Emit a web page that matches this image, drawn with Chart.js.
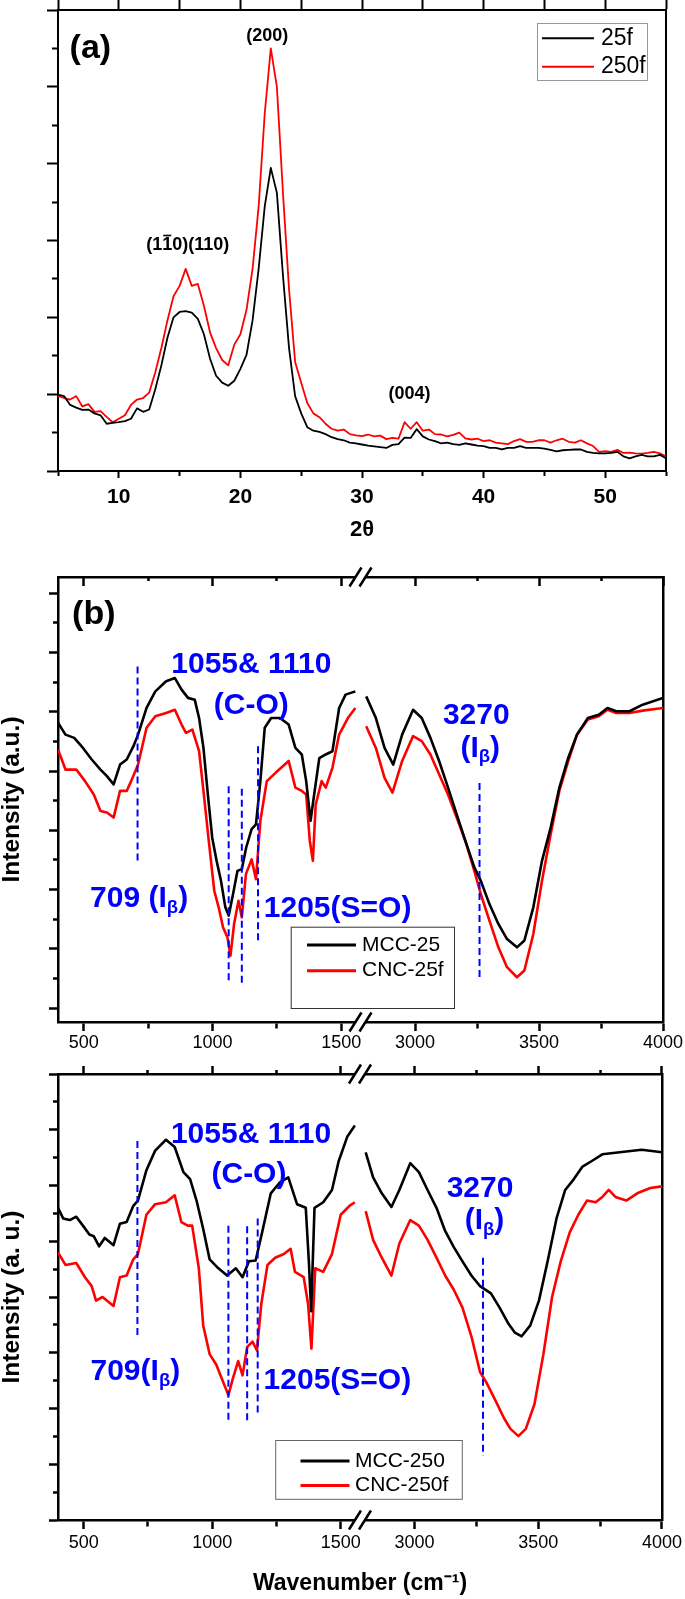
<!DOCTYPE html>
<html>
<head>
<meta charset="utf-8">
<title>XRD and FTIR of MCC / CNC</title>
<script src="https://cdn.jsdelivr.net/npm/chart.js"></script>
<style>
    body { margin: 0; background: #ffffff; }
    canvas { position: absolute; left: 0; }
</style>
</head>
<body>
<canvas id="xrd" width="685" height="548" style="top:0px"></canvas>
<canvas id="ftir25" width="685" height="508" style="top:548px"></canvas>
<canvas id="ftir250" width="685" height="543" style="top:1056px"></canvas>

<script>
// ---------- (a) XRD patterns, intensity in arbitrary units ----------
const twoTheta = [
    5, 5.5, 6, 6.5, 7, 7.5, 8, 8.5, 9, 9.5,
    10, 10.5, 11, 11.5, 12, 12.5, 13, 13.5, 14, 14.5,
    15, 15.5, 16, 16.5, 17, 17.5, 18, 18.5, 19, 19.5,
    20, 20.5, 21, 21.5, 22, 22.5, 23, 23.5, 24, 24.5,
    25, 25.5, 26, 26.5, 27, 27.5, 28, 28.5, 29, 29.5,
    30, 30.5, 31, 31.5, 32, 32.5, 33, 33.5, 34, 34.5,
    35, 35.5, 36, 36.5, 37, 37.5, 38, 38.5, 39, 39.5,
    40, 40.5, 41, 41.5, 42, 42.5, 43, 43.5, 44, 44.5,
    45, 45.5, 46, 46.5, 47, 47.5, 48, 48.5, 49, 49.5,
    50, 50.5, 51, 51.5, 52, 52.5, 53, 53.5, 54, 54.5,
    55];
const xrd25f = [
    1.99, 1.95, 1.72, 1.65, 1.59, 1.60, 1.50, 1.45, 1.23, 1.25,
    1.27, 1.30, 1.36, 1.63, 1.54, 1.60, 2.13, 2.75, 3.47, 4.00,
    4.14, 4.16, 4.12, 3.96, 3.56, 2.93, 2.48, 2.30, 2.22, 2.35,
    2.66, 3.02, 3.92, 5.26, 6.88, 7.89, 7.24, 5.09, 3.20, 1.95,
    1.50, 1.14, 1.05, 1.02, 0.96, 0.88, 0.83, 0.80, 0.74, 0.72,
    0.69, 0.66, 0.64, 0.62, 0.60, 0.68, 0.70, 0.87, 0.86, 1.09,
    0.90, 0.82, 0.78, 0.72, 0.74, 0.70, 0.68, 0.72, 0.69, 0.66,
    0.65, 0.60, 0.60, 0.56, 0.60, 0.60, 0.65, 0.60, 0.60, 0.60,
    0.58, 0.55, 0.51, 0.54, 0.55, 0.56, 0.56, 0.50, 0.47, 0.46,
    0.46, 0.47, 0.50, 0.38, 0.33, 0.38, 0.42, 0.38, 0.38, 0.42,
    0.33];
const xrd250f = [
    1.95, 1.90, 1.86, 1.95, 1.68, 1.74, 1.54, 1.56, 1.41, 1.27,
    1.36, 1.45, 1.72, 1.86, 1.90, 2.04, 2.57, 3.20, 3.92, 4.55,
    4.82, 5.26, 4.82, 4.87, 4.30, 3.61, 3.20, 2.89, 2.75, 3.29,
    3.56, 4.19, 5.26, 6.88, 9.30, 11.00, 10.00, 7.24, 4.73, 2.84,
    2.30, 1.77, 1.50, 1.40, 1.23, 1.10, 1.05, 1.08, 0.96, 0.93,
    0.91, 0.95, 0.90, 0.92, 0.83, 0.86, 0.84, 1.27, 1.10, 1.27,
    1.05, 1.08, 0.96, 0.95, 0.90, 0.94, 1.00, 0.85, 0.82, 0.84,
    0.78, 0.80, 0.74, 0.72, 0.70, 0.78, 0.83, 0.76, 0.76, 0.80,
    0.80, 0.74, 0.80, 0.84, 0.76, 0.74, 0.80, 0.72, 0.65, 0.50,
    0.52, 0.50, 0.55, 0.47, 0.48, 0.46, 0.45, 0.47, 0.50, 0.46,
    0.38];

// wavenumber ticks on each side of the axis break
const wnTicksLow = [500, 750, 1000, 1250, 1500];
const wnTicksHigh = [3000, 3250, 3500, 3750, 4000];

// ---------- (b) FTIR, 25 series (wavenumber cm-1 / intensity a.u.) ----------
const mcc25LowWn = [400, 429, 463, 497, 531, 565, 590, 616, 641, 667, 693, 711, 744, 778, 820, 854, 880, 905, 931, 948,
    965, 982, 999, 1016, 1033, 1050, 1063, 1080, 1097, 1114, 1131, 1152, 1169, 1186, 1203, 1228, 1262, 1296, 1322, 1347,
    1364, 1381, 1395, 1415, 1440, 1466, 1492, 1517, 1555];
const mcc25Low = [9.63, 9.23, 9.12, 8.78, 8.39, 8.05, 7.83, 7.55, 8.22, 8.39, 8.84, 9.23, 10.13, 10.69, 11.03, 11.14, 10.75, 10.47, 10.41, 9.79,
    8.78, 7.21, 5.75, 4.97, 4.30, 3.40, 3.12, 3.85, 4.63, 4.69, 5.42, 6.04, 6.20, 7.66, 9.46, 9.79, 9.79, 9.57, 8.78, 8.56,
    7.66, 6.32, 7.21, 8.44, 8.56, 8.67, 10.13, 10.58, 10.69];
const cnc25fLowWn = [400, 429, 471, 505, 539, 565, 590, 616, 641, 667, 684, 711, 744, 778, 820, 854, 880, 897, 922, 948,
    965, 987, 1007, 1024, 1041, 1058, 1070, 1084, 1101, 1114, 1130, 1152, 1169, 1186, 1211, 1245, 1296, 1322, 1347, 1364,
    1378, 1390, 1401, 1424, 1440, 1466, 1492, 1526, 1555];
const cnc25fLow = [8.73, 8.05, 8.05, 7.66, 7.21, 6.65, 6.60, 6.43, 7.33, 7.33, 7.66, 8.22, 9.46, 9.85, 9.96, 10.07, 9.57, 9.29, 9.40, 8.67,
    7.33, 5.53, 3.96, 3.40, 2.73, 2.39, 1.77, 2.84, 3.62, 3.06, 4.52, 5.02, 4.35, 6.32, 7.66, 7.94, 8.34, 7.44, 7.33, 7.21,
    5.65, 4.97, 6.87, 7.66, 7.44, 8.11, 9.23, 9.79, 10.13];
const mcc25HighWn = [2803, 2842, 2877, 2912, 2948, 2992, 3027, 3062, 3097, 3133, 3168, 3203, 3239, 3265, 3300, 3336,
    3371, 3411, 3441, 3477, 3512, 3547, 3582, 3618, 3653, 3697, 3741, 3776, 3812, 3865, 3918, 4000];
const mcc25High = [10.52, 9.79, 8.78, 8.22, 9.23, 10.07, 9.79, 9.12, 8.34, 7.44, 6.54, 5.64, 4.75, 4.30, 3.51, 2.84,
    2.33, 2.05, 2.28, 3.40, 4.97, 6.09, 7.44, 8.45, 9.23, 9.79, 9.90, 10.13, 10.02, 10.02, 10.24, 10.47];
const cnc25fHighWn = [2803, 2842, 2877, 2909, 2948, 2992, 3027, 3062, 3097, 3133, 3168, 3203, 3239, 3265, 3300, 3336,
    3371, 3411, 3441, 3477, 3512, 3547, 3582, 3618, 3653, 3697, 3741, 3776, 3812, 3865, 3918, 4000];
const cnc25fHigh = [9.51, 8.78, 7.77, 7.27, 8.34, 9.18, 9.01, 8.56, 7.89, 7.21, 6.43, 5.64, 4.63, 3.85, 2.95, 2.05,
    1.38, 1.04, 1.27, 2.50, 4.30, 5.87, 7.33, 8.34, 9.23, 9.74, 9.85, 10.07, 9.96, 9.96, 10.04, 10.13];
// dashed band markers: wavenumber, upper and lower end
const marks25Wn = [709, 1063, 1114, 1177, 3260];
const marks25Top = [11.53, 7.49, 7.40, 8.84, 7.60];
const marks25Bot = [4.91, 0.88, 0.80, 2.19, 0.99];

// ---------- (c) FTIR, 250 series ----------
const mcc250LowWn = [400, 420, 446, 471, 497, 522, 539, 560, 582, 616, 641, 667, 693, 711, 744, 778, 820, 854, 888, 914,
    939, 965, 990, 1024, 1058, 1092, 1118, 1143, 1169, 1194, 1228, 1262, 1296, 1330, 1364, 1376, 1385, 1398, 1432, 1466,
    1492, 1526, 1555];
const mcc250Low = [11.20, 10.82, 10.76, 10.88, 10.56, 10.24, 10.18, 9.82, 10.12, 9.86, 10.63, 10.69, 11.27, 11.46, 12.55, 13.25, 13.64, 13.38, 12.48, 12.23,
    11.46, 10.44, 9.35, 9.03, 8.77, 9.03, 8.71, 9.28, 9.31, 10.31, 11.72, 12.10, 12.29, 11.33, 11.20, 9.28, 7.49, 11.20, 11.40, 11.84,
    12.87, 13.76, 14.15];
const cnc250fLowWn = [400, 429, 471, 505, 531, 548, 573, 616, 641, 667, 693, 711, 744, 778, 820, 854, 880, 905, 922, 948,
    965, 990, 1016, 1041, 1063, 1080, 1101, 1118, 1136, 1157, 1174, 1191, 1215, 1245, 1279, 1305, 1322, 1356, 1373, 1386,
    1401, 1432, 1466, 1500, 1534, 1555];
const cnc250fLow = [9.60, 9.15, 9.22, 8.71, 8.39, 7.87, 8.00, 7.68, 8.71, 8.77, 9.35, 9.54, 10.95, 11.33, 11.40, 11.65, 10.69, 10.56, 10.56, 9.03,
    6.98, 5.95, 5.57, 4.99, 4.48, 5.06, 5.70, 5.19, 6.21, 6.40, 6.08, 7.75, 9.15, 9.41, 9.54, 9.73, 8.90, 8.71, 7.75, 6.15,
    9.03, 8.90, 9.54, 10.95, 11.27, 11.40];
const mcc250HighWn = [2803, 2833, 2868, 2907, 2939, 2983, 3018, 3053, 3089, 3124, 3159, 3194, 3230, 3265, 3309, 3344,
    3380, 3406, 3433, 3468, 3503, 3538, 3574, 3609, 3644, 3679, 3715, 3759, 3829, 3918, 4000];
const mcc250High = [13.19, 12.29, 11.72, 11.23, 11.84, 12.80, 12.48, 11.84, 11.20, 10.37, 9.79, 9.28, 8.77, 8.39, 8.13, 7.62,
    7.04, 6.72, 6.59, 6.98, 7.87, 9.28, 10.82, 11.84, 12.23, 12.68, 12.87, 13.12, 13.19, 13.28, 13.19];
const cnc250fHighWn = [2803, 2833, 2868, 2907, 2939, 2983, 3018, 3053, 3089, 3124, 3159, 3194, 3230, 3265, 3291, 3327,
    3362, 3388, 3420, 3450, 3485, 3521, 3556, 3591, 3627, 3662, 3697, 3732, 3759, 3785, 3812, 3856, 3900, 3953, 4000];
const cnc250fHigh = [11.08, 10.05, 9.41, 8.77, 9.92, 10.76, 10.56, 10.05, 9.41, 8.77, 8.26, 7.62, 6.59, 5.31, 4.93, 4.29,
    3.65, 3.27, 3.01, 3.27, 4.16, 5.95, 8.00, 9.28, 10.31, 10.95, 11.46, 11.40, 11.59, 11.84, 11.59, 11.46, 11.72, 11.91, 11.97];
const marks250Wn = [709, 1063, 1136, 1177, 3277];
const marks250Top = [13.60, 10.56, 10.54, 10.82, 9.41];
const marks250Bot = [6.53, 3.46, 3.46, 3.71, 2.30];

// text labels placed in data coordinates ('_' = subscript next char, '~' = overbar next char)
const BLUE = '#0000ff';
const RED = '#ff0000';
const notesA = [
    { axis: 'x', x: 7.66, y: 11.0, text: '(a)', size: 34, color: '#000' },
    { axis: 'x', x: 22.2, y: 11.32, text: '(200)', size: 18, color: '#000' },
    { axis: 'x', x: 15.67, y: 5.87, text: '(1~10)(110)', size: 18, color: '#000' },
    { axis: 'x', x: 33.9, y: 2.01, text: '(004)', size: 18, color: '#000' }
];
const notesB = [
    { axis: 'xl', x: 539, y: 13.28, text: '(b)', size: 34, color: '#000' },
    { axis: 'xl', x: 1151, y: 11.6, text: '1055& 1110', size: 30, color: BLUE },
    { axis: 'xl', x: 1151, y: 10.22, text: '(C-O)', size: 30, color: BLUE },
    { axis: 'xr', x: 3247, y: 9.88, text: '3270', size: 30, color: BLUE },
    { axis: 'xr', x: 3263, y: 8.77, text: '(I_β)', size: 30, color: BLUE },
    { axis: 'xl', x: 715, y: 3.69, text: '709 (I_β)', size: 30, color: BLUE },
    { axis: 'xl', x: 1486, y: 3.35, text: '1205(S=O)', size: 30, color: BLUE }
];
const notesC = [
    { axis: 'xl', x: 1151, y: 13.83, text: '1055& 1110', size: 30, color: BLUE },
    { axis: 'xl', x: 1143, y: 12.38, text: '(C-O)', size: 30, color: BLUE },
    { axis: 'xr', x: 3265, y: 11.87, text: '3270', size: 30, color: BLUE },
    { axis: 'xr', x: 3283, y: 10.72, text: '(I_β)', size: 30, color: BLUE },
    { axis: 'xl', x: 701, y: 5.31, text: '709(I_β)', size: 30, color: BLUE },
    { axis: 'xl', x: 1487, y: 4.99, text: '1205(S=O)', size: 30, color: BLUE }
];

const FONT = "'Liberation Sans', Arial, Helvetica, sans-serif";
Chart.defaults.font.family = FONT;
Chart.defaults.color = '#000';
Chart.defaults.animation = false;

function pts(xs, ys) {
    return xs.map((x, i) => ({ x: x, y: ys[i] }));
}

// vertical dashed markers, separated by gaps
function markPts(xs, tops, bots, keep) {
    const out = [];
    xs.forEach((x, i) => {
        if (!keep(x)) return;
        out.push({ x: x, y: tops[i] }, { x: x, y: bots[i] }, { x: x, y: null });
    });
    return out;
}

function drawRich(ctx, str, cx, cy, size, color) {
    const parts = [];
    for (let i = 0; i < str.length; i++) {
        const c = str[i];
        if ((c === '_' || c === '~') && i + 1 < str.length) {
            parts.push({ t: str[i + 1], k: c });
            i++;
        } else if (parts.length && !parts[parts.length - 1].k) {
            parts[parts.length - 1].t += c;
        } else {
            parts.push({ t: c, k: '' });
        }
    }
    const fontFor = p => 'bold ' + (p.k === '_' ? size * 0.62 : size) + 'px ' + FONT;
    let total = 0;
    parts.forEach(p => {
        ctx.font = fontFor(p);
        p.w = ctx.measureText(p.t).width;
        total += p.w;
    });
    let x = cx - total / 2;
    ctx.fillStyle = color;
    ctx.textAlign = 'left';
    ctx.textBaseline = 'middle';
    parts.forEach(p => {
        ctx.font = fontFor(p);
        ctx.fillText(p.t, x, p.k === '_' ? cy + size * 0.3 : cy);
        if (p.k === '~') {
            ctx.fillRect(x + p.w * 0.1, cy - size * 0.6, p.w * 0.8, size * 0.09);
        }
        x += p.w;
    });
}

function drawLegend(ctx, chart, L) {
    ctx.fillStyle = '#fff';
    ctx.fillRect(L.x, L.y, L.w, L.h);
    ctx.strokeStyle = L.stroke;
    ctx.lineWidth = 1;
    ctx.strokeRect(L.x + 0.5, L.y + 0.5, L.w, L.h);
    L.rows.forEach(row => {
        const ds = chart.data.datasets[row.ds];
        ctx.strokeStyle = ds.borderColor;
        ctx.lineWidth = L.lineWidth;
        ctx.beginPath();
        ctx.moveTo(L.x1, row.y);
        ctx.lineTo(L.x2, row.y);
        ctx.stroke();
        ctx.fillStyle = '#000';
        ctx.font = L.font + 'px ' + FONT;
        ctx.textAlign = 'left';
        ctx.textBaseline = 'middle';
        ctx.fillText(ds.label, L.tx, row.y);
    });
}

// "//" axis break mark
function drawBreak(ctx, x, y) {
    ctx.fillStyle = '#fff';
    ctx.beginPath();
    ctx.moveTo(x - 11, y + 9.5);
    ctx.lineTo(x + 1, y - 9.5);
    ctx.lineTo(x + 11, y - 9.5);
    ctx.lineTo(x - 1, y + 9.5);
    ctx.closePath();
    ctx.fill();
    ctx.strokeStyle = '#000';
    ctx.lineWidth = 2.5;
    ctx.beginPath();
    ctx.moveTo(x - 11, y + 9.5);
    ctx.lineTo(x + 1, y - 9.5);
    ctx.moveTo(x - 1, y + 9.5);
    ctx.lineTo(x + 11, y - 9.5);
    ctx.stroke();
}

function decor(cfg) {
    return {
        id: 'decor',
        afterDraw(chart) {
            const ctx = chart.ctx;
            ctx.save();
            if (cfg.breakAxis) {
                const bx = chart.scales.xl.right;
                drawBreak(ctx, bx, chart.chartArea.top);
                drawBreak(ctx, bx, chart.chartArea.bottom);
            }
            cfg.notes.forEach(n => {
                drawRich(ctx, n.text, chart.scales[n.axis].getPixelForValue(n.x),
                    chart.scales.y.getPixelForValue(n.y), n.size, n.color);
            });
            drawLegend(ctx, chart, cfg.legend);
            ctx.restore();
        }
    };
}

const noPlugins = { legend: { display: false }, tooltip: { enabled: false } };

// ---------- (a) ----------
const frameA = { display: true, color: '#000', width: 2 };
new Chart(document.getElementById('xrd'), {
    type: 'line',
    data: {
        datasets: [
            { label: '25f', data: pts(twoTheta, xrd25f), borderColor: '#000' },
            { label: '250f', data: pts(twoTheta, xrd250f), borderColor: RED }
        ]
    },
    options: {
        responsive: false,
        datasets: { line: { pointRadius: 0, borderWidth: 1.8, tension: 0, borderJoinStyle: 'round' } },
        plugins: noPlugins,
        scales: {
            x: {
                type: 'linear', position: 'bottom', min: 5, max: 55, border: frameA,
                grid: {
                    drawOnChartArea: false, tickLength: 7, tickWidth: 2, tickColor: '#000',
                    tickBorderDash: c => (c.tick && c.tick.value % 10 === 0) ? [] : [4, 400]
                },
                ticks: {
                    stepSize: 5, autoSkip: false, maxRotation: 0, padding: 7,
                    font: { size: 21, weight: 'bold' },
                    callback: v => v % 10 === 0 ? v : ''
                },
                title: { display: true, text: '2θ', font: { size: 22, weight: 'bold' }, padding: { top: 0, bottom: 5 } },
                afterFit: s => { s.height = 77; }
            },
            x2: {
                type: 'linear', position: 'top', min: 5, max: 55, border: frameA,
                grid: { drawOnChartArea: false, tickLength: 10, tickWidth: 2, tickColor: '#000' },
                ticks: { display: false, stepSize: 5, autoSkip: false },
                afterFit: s => { s.height = 10; }
            },
            y: {
                position: 'left', min: 0, max: 12, border: frameA,
                grid: {
                    drawOnChartArea: false, tickLength: 11, tickWidth: 2, tickColor: '#000',
                    tickBorderDash: c => (c.tick && c.tick.value % 2 === 0) ? [] : [0, 5, 6, 400]
                },
                ticks: { display: false, stepSize: 1, autoSkip: false },
                afterFit: s => { s.width = 58; }
            },
            y2: {
                position: 'right', min: 0, max: 12, border: frameA,
                grid: { display: false }, ticks: { display: false },
                afterFit: s => { s.width = 19; }
            }
        }
    },
    plugins: [decor({
        notes: notesA,
        legend: { x: 537, y: 23, w: 110, h: 57, x1: 542, x2: 594, tx: 601, font: 23, lineWidth: 2, stroke: '#999',
            rows: [{ ds: 0, y: 38.3 }, { ds: 1, y: 66.7 }] }
    })]
});

// ---------- (b) and (c): broken wavenumber axis ----------
function ftirConfig(o) {
    const frame = { display: true, color: '#000', width: 2.5 };
    const major = c => c.tick && c.tick.value % 500 === 0;
    const useTicks = list => s => { s.ticks = list.map(v => ({ value: v })); };
    const bottomAxis = (min, max, list) => ({
        type: 'linear', position: 'bottom', stack: 'bottomStack', stackWeight: 1, min: min, max: max, border: frame,
        grid: {
            drawOnChartArea: false, tickLength: 9, tickWidth: 2.5, tickColor: '#000',
            tickBorderDash: c => major(c) ? [] : [5, 400]
        },
        ticks: {
            autoSkip: false, maxRotation: 0, padding: o.tickPad,
            font: { size: 18 }, callback: v => v % 500 === 0 ? v : ''
        },
        afterBuildTicks: useTicks(list),
        afterFit: s => { s.height = o.bottomH; }
    });
    const topAxis = (min, max, list) => ({
        type: 'linear', position: 'top', stack: 'topStack', stackWeight: 1, min: min, max: max, border: frame,
        grid: {
            drawOnChartArea: false, tickLength: o.topTick, tickWidth: 2.5, tickColor: '#000',
            tickBorderDash: c => major(c) ? [] : [0, Math.abs(o.topTick) - 4, 5, 400]
        },
        ticks: { display: false, autoSkip: false },
        afterBuildTicks: useTicks(list),
        afterFit: s => { s.height = o.topH; }
    });
    const keepLow = x => x < 2000;
    const keepHigh = x => x >= 2000;
    return {
        type: 'line',
        data: {
            datasets: [
                { data: markPts(o.marks[0], o.marks[1], o.marks[2], keepLow), xAxisID: 'xl', borderColor: BLUE, borderWidth: 2, borderDash: [7, 4] },
                { data: markPts(o.marks[0], o.marks[1], o.marks[2], keepHigh), xAxisID: 'xr', borderColor: BLUE, borderWidth: 2, borderDash: [7, 4] },
                { label: o.names[0], data: pts(o.black[0], o.black[1]), xAxisID: 'xl', borderColor: '#000' },
                { label: o.names[0], data: pts(o.black[2], o.black[3]), xAxisID: 'xr', borderColor: '#000' },
                { label: o.names[1], data: pts(o.red[0], o.red[1]), xAxisID: 'xl', borderColor: RED },
                { label: o.names[1], data: pts(o.red[2], o.red[3]), xAxisID: 'xr', borderColor: RED }
            ]
        },
        options: {
            responsive: false,
            datasets: { line: { pointRadius: 0, borderWidth: 2.6, tension: 0, borderJoinStyle: 'round' } },
            plugins: Object.assign({}, noPlugins, o.title ? {
                title: {
                    display: true, text: o.title, position: 'bottom', fullSize: false,
                    font: { size: 23, weight: 'bold' }, padding: { top: 4, bottom: 2 }
                }
            } : {}),
            scales: {
                xl: bottomAxis(400, 1575, wnTicksLow),
                xr: bottomAxis(2780, 4000, wnTicksHigh),
                // top boxes are laid out in reverse order, so the right one comes first
                txr: topAxis(2780, 4000, wnTicksHigh),
                txl: topAxis(400, 1575, wnTicksLow),
                y: {
                    position: 'left', min: o.yMin, max: o.yMax, border: frame,
                    grid: {
                        drawOnChartArea: false, tickLength: 9, tickWidth: 2.5, tickColor: '#000',
                        tickBorderDash: c => (c.tick && Math.round(c.tick.value) % 2 === 0) ? [] : [0, 4, 5, 400]
                    },
                    ticks: { display: false, stepSize: 1, includeBounds: false, autoSkip: false },
                    title: {
                        display: true, text: o.yTitle, font: { size: 24.5, weight: 'bold', lineHeight: 1.0 },
                        padding: { top: 0, bottom: 0 }
                    },
                    afterFit: s => { s.width = 58; }
                },
                yr: {
                    position: 'right', min: o.yMin, max: o.yMax, border: frame,
                    grid: { display: false }, ticks: { display: false },
                    afterFit: s => { s.width = 22; }
                }
            }
        },
        plugins: [decor({ breakAxis: true, notes: o.notes, legend: o.legend })]
    };
}

new Chart(document.getElementById('ftir25'), ftirConfig({
    names: ['MCC-25', 'CNC-25f'],
    black: [mcc25LowWn, mcc25Low, mcc25HighWn, mcc25High],
    red: [cnc25fLowWn, cnc25fLow, cnc25fHighWn, cnc25fHigh],
    marks: [marks25Wn, marks25Top, marks25Bot],
    yMin: -0.47, yMax: 14.55, yTitle: 'Intensity (a.u.)',
    topTick: -9, topH: 29, bottomH: 34, tickPad: 1,
    notes: notesB,
    legend: { x: 290.7, y: 378.7, w: 163.3, h: 81.3, x1: 307, x2: 356, tx: 362, font: 21, lineWidth: 3, stroke: '#333',
        rows: [{ ds: 2, y: 397 }, { ds: 4, y: 422.7 }] }
}));

new Chart(document.getElementById('ftir250'), ftirConfig({
    names: ['MCC-250', 'CNC-250f'],
    black: [mcc250LowWn, mcc250Low, mcc250HighWn, mcc250High],
    red: [cnc250fLowWn, cnc250fLow, cnc250fHighWn, cnc250fHigh],
    marks: [marks250Wn, marks250Top, marks250Bot],
    yMin: 0, yMax: 16, yTitle: 'Intensity (a. u.)',
    topTick: 8, topH: 18, bottomH: 45.4, tickPad: 3,
    title: 'Wavenumber (cm⁻¹)',
    notes: notesC,
    legend: { x: 275.2, y: 384, w: 186.6, h: 58.8, x1: 300.5, x2: 349.5, tx: 355, font: 21, lineWidth: 3, stroke: '#666',
        rows: [{ ds: 2, y: 405 }, { ds: 4, y: 429.6 }] }
}));
</script>
</body>
</html>
